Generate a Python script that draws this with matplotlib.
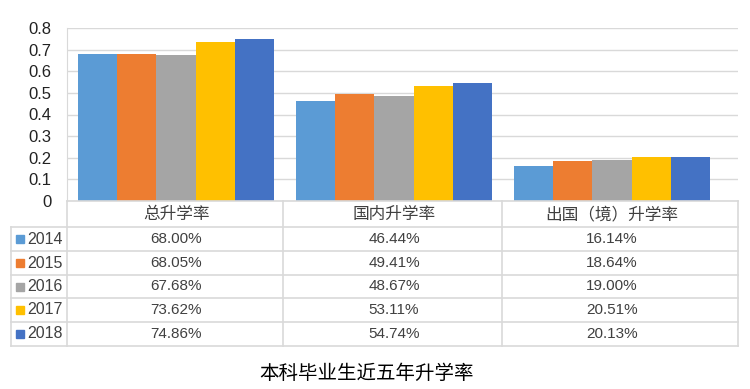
import matplotlib
matplotlib.use("Agg")
import matplotlib.pyplot as plt
from matplotlib.lines import Line2D
from matplotlib.patches import Rectangle
from matplotlib.transforms import blended_transform_factory
import numpy as np

plt.rcParams['font.family'] = ['Liberation Sans', 'Noto Sans CJK SC', 'DejaVu Sans']

# data
categories = ['总升学率', '国内升学率', '出国（境）升学率']
years = ['2014', '2015', '2016', '2017', '2018']
rates = {
    '2014': [0.6800, 0.4644, 0.1614],
    '2015': [0.6805, 0.4941, 0.1864],
    '2016': [0.6768, 0.4867, 0.1900],
    '2017': [0.7362, 0.5311, 0.2051],
    '2018': [0.7486, 0.5474, 0.2013],
}
colors = ['#5B9BD5', '#ED7D31', '#A5A5A5', '#FFC000', '#4472C4']
title = '本科毕业生近五年升学率'

W, H = 750, 389
fig = plt.figure(figsize=(W / 100, H / 100), dpi=100)


def fx(px):
    return px / W


def fy(py):
    return 1 - py / H


# layout in pixels
ax_l, ax_r, ax_t, ax_b = 67, 738, 28, 201
cat_w = 218
ax = fig.add_axes([fx(ax_l), fy(ax_b), fx(ax_r - ax_l), fy(ax_t) - fy(ax_b)])

n = len(years)
x = np.arange(len(categories))
group = 0.895
bw = group / n
for i, (yr, c) in enumerate(zip(years, colors)):
    ax.bar(x - group / 2 + bw * (i + 0.5), rates[yr], width=bw, color=c, zorder=2)

ax.set_xlim(-0.5, -0.5 + (ax_r - ax_l) / cat_w)
ax.set_ylim(0, 0.8)
ax.set_yticks(np.arange(0, 0.81, 0.1))
ax.set_yticklabels(['0'] + ['%.1f' % v for v in np.arange(0.1, 0.81, 0.1)])
ax.tick_params(axis='y', length=0, labelsize=12, colors='#222222', pad=11)
ax.set_xticks([])
ax.grid(axis='y', color='#D9D9D9', linewidth=1, zorder=0)
for s in ['top', 'right', 'bottom']:
    ax.spines[s].set_visible(False)
ax.spines['left'].set_color('#D9D9D9')

# table below
line_c = '#D9D9D9'
col_x = [ax_l, 283, 502, ax_r]
key_l = 11
row_y = [ax_b, 227, 251, 275, 298, 322, 346]


def hline(x0, x1, y):
    fig.add_artist(Line2D([fx(x0), fx(x1)], [fy(y), fy(y)], color=line_c, lw=1.2))


def vline(x, y0, y1):
    fig.add_artist(Line2D([fx(x), fx(x)], [fy(y0), fy(y1)], color=line_c, lw=1.2))


hline(ax_l, ax_r, row_y[0])
for y in row_y[1:]:
    hline(key_l, ax_r, y)
for cx in col_x:
    vline(cx, row_y[0], row_y[-1])
vline(key_l, row_y[1], row_y[-1])

# text centred on the bar groups (data x, figure y)
tr = blended_transform_factory(ax.transData, fig.transFigure)
for j, cat in enumerate(categories):
    ax.text(x[j], fy((row_y[0] + row_y[1]) / 2), cat, transform=tr, ha='center', va='center',
            fontsize=12, color='#404040', clip_on=False)

for i, (yr, c) in enumerate(zip(years, colors)):
    cy = (row_y[i + 1] + row_y[i + 2]) / 2
    fig.add_artist(Rectangle((fx(16), fy(cy + 4)), fx(8), fy(cy - 4) - fy(cy + 4), color=c))
    fig.text(fx(27), fy(cy), yr, ha='left', va='center', fontsize=11.5, color='#404040')
    for j in range(len(categories)):
        ax.text(x[j], fy(cy), '%.2f%%' % (rates[yr][j] * 100), transform=tr,
                ha='center', va='center', fontsize=11, color='#404040', clip_on=False)

fig.text(fx(367), fy(373), title, ha='center', va='center', fontsize=14, color='black',
         family=['Noto Sans CJK SC'])

fig.savefig('out.png', dpi=100)
